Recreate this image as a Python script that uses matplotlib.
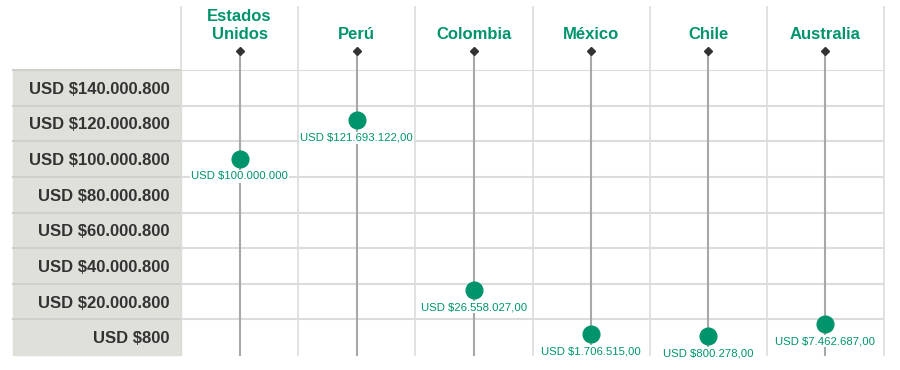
import matplotlib.pyplot as plt

# data
countries = ['Estados\nUnidos', 'Perú', 'Colombia', 'México', 'Chile', 'Australia']
amounts = [100000000, 121693122, 26558027, 1706515, 800278, 7462687]
amount_labels = ['USD $100.000.000', 'USD $121.693.122,00', 'USD $26.558.027,00',
                 'USD $1.706.515,00', 'USD $800.278,00', 'USD $7.462.687,00']
row_values = [800, 20000800, 40000800, 60000800, 80000800, 100000800, 120000800, 140000800]
row_labels = ['USD $800', 'USD $20.000.800', 'USD $40.000.800', 'USD $60.000.800',
              'USD $80.000.800', 'USD $100.000.800', 'USD $120.000.800', 'USD $140.000.800']

GREEN = '#00946c'
BAND = '#e0e0da'
GRID = '#dcdcdc'

plt.rcParams['font.family'] = ['Liberation Sans', 'DejaVu Sans']

fig = plt.figure(figsize=(9, 3.7), dpi=100)
W, H = 900, 370
ax = fig.add_axes([181 / W, 15 / H, (884 - 181) / W, (355 - 70) / H])

step = row_values[1] - row_values[0]
ax.set_xlim(-0.5, len(countries) - 0.5)
ax.set_ylim(row_values[0] - step / 2, row_values[-1] + step / 2)
for s in ax.spines.values():
    s.set_visible(False)

band_left = -(181 - 13) / (884 - 181)

# grey label column
ax.axhspan(row_values[0] - step / 2, row_values[-1] + step / 2,
           xmin=band_left, xmax=0, color=BAND, zorder=0, clip_on=False)

# row separators
for v in row_values:
    top = v + step / 2
    ax.axhline(top, xmin=0, xmax=1, color=GRID, lw=1.5, zorder=1)
    ax.axhline(top, xmin=band_left, xmax=0, color='#d0d0ca', lw=1.5,
               zorder=1, clip_on=False)

xt = ax.get_xaxis_transform()
# vertical grid
for k in range(len(countries) + 1):
    ax.plot([k - 0.5, k - 0.5], [0, 1.221], transform=xt, color=GRID,
            lw=1.2, zorder=1, clip_on=False)

# stems, header markers and names
for i, name in enumerate(countries):
    ax.plot([i, i], [0, 1.067], transform=xt, color='#a8a8a8', lw=1.5,
            zorder=2, clip_on=False)
    ax.plot([i], [1.067], transform=xt, marker='D', ms=4, color='#333333',
            zorder=3, clip_on=False)
    ax.text(i, 1.098, name, transform=xt, ha='center', va='bottom',
            fontsize=12, fontweight='bold', color=GREEN, linespacing=1.25)

# dots and value labels
x = list(range(len(countries)))
ax.scatter(x, amounts, s=145, color=GREEN, zorder=4, clip_on=False)
for i, (val, lab) in enumerate(zip(amounts, amount_labels)):
    ax.annotate(lab, (i, val), xytext=(0, -12.5), textcoords='offset points',
                ha='center', va='center', fontsize=8.2, color=GREEN, zorder=5,
                annotation_clip=False,
                bbox=dict(boxstyle='square,pad=0.1', fc='white', ec='none'))

ax.set_xticks([])
ax.set_yticks(row_values)
ax.set_yticklabels(row_labels, fontsize=12, fontweight='bold', color='#333333')
ax.tick_params(axis='y', length=0, pad=8)

fig.savefig('out.png', dpi=100)
